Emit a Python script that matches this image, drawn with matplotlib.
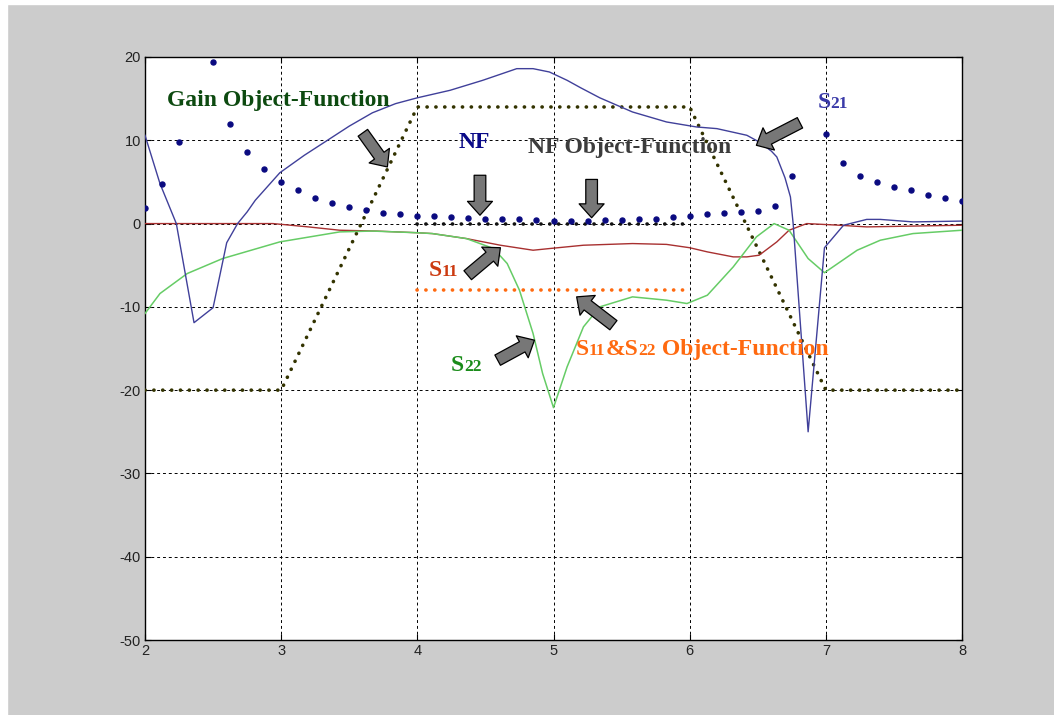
import matplotlib
matplotlib.use("Agg")
import matplotlib.pyplot as plt
from matplotlib import font_manager
from matplotlib.patches import FancyArrowPatch, Rectangle
from matplotlib.offsetbox import TextArea, HPacker, AnnotationBbox

# ---- data -------------------------------------------------------------
s21_x = [2.00, 2.11, 2.23, 2.36, 2.50, 2.60, 2.68, 2.75, 2.81, 2.99, 3.17, 3.34,
         3.50, 3.67, 3.84, 4.00, 4.24, 4.48, 4.73, 4.85, 4.97, 5.10, 5.20, 5.34,
         5.58, 5.83, 6.05, 6.20, 6.42, 6.51, 6.60, 6.64, 6.70, 6.74, 6.76, 6.87,
         6.99, 7.13, 7.30, 7.40, 7.64, 8.00]
s21_y = [10.6, 4.8, 0.0, -11.9, -10.1, -2.3, 0.0, 1.4, 2.8, 6.1, 8.2, 10.0,
         11.7, 13.3, 14.4, 15.1, 16.0, 17.2, 18.6, 18.6, 18.2, 17.2, 16.3, 15.1,
         13.4, 12.2, 11.6, 11.4, 10.6, 9.8, 8.7, 8.0, 5.5, 3.2, 0.0, -25.0,
         -2.9, -0.2, 0.5, 0.5, 0.2, 0.3]

s11_x = [2.00, 2.94, 3.20, 3.43, 3.70, 4.00, 4.11, 4.36, 4.61, 4.85, 4.97, 5.22,
         5.58, 5.83, 6.00, 6.13, 6.32, 6.42, 6.51, 6.64, 6.73, 6.86, 7.10, 7.30,
         7.64, 8.00]
s11_y = [0.0, 0.0, -0.4, -0.8, -0.9, -1.1, -1.2, -1.8, -2.6, -3.2, -3.0, -2.6,
         -2.4, -2.5, -2.9, -3.4, -4.0, -4.0, -3.8, -2.2, -0.8, 0.0, -0.2, -0.4,
         -0.3, -0.2]

s22_x = [2.00, 2.11, 2.31, 2.57, 2.99, 3.43, 3.67, 4.00, 4.11, 4.36, 4.56, 4.66,
         4.75, 4.85, 4.92, 5.00, 5.10, 5.22, 5.34, 5.58, 5.83, 5.98, 6.13, 6.32,
         6.49, 6.62, 6.73, 6.87, 6.99, 7.23, 7.40, 7.64, 8.00]
s22_y = [-10.8, -8.4, -6.0, -4.2, -2.2, -1.0, -0.9, -1.1, -1.2, -1.8, -3.0, -4.8,
         -8.0, -13.2, -18.0, -22.1, -17.2, -12.4, -10.0, -8.8, -9.2, -9.6, -8.6, -5.2,
         -1.6, 0.0, -0.8, -4.2, -5.9, -3.2, -2.0, -1.2, -0.8]

nf_x = [2.000, 2.125, 2.250, 2.375, 2.500, 2.625, 2.750, 2.875, 3.000, 3.125,
        3.250, 3.375, 3.500, 3.625, 3.750, 3.875, 4.000, 4.125, 4.250, 4.375,
        4.500, 4.625, 4.750, 4.875, 5.000, 5.125, 5.250, 5.375, 5.500, 5.625,
        5.750, 5.875, 6.000, 6.125, 6.250, 6.375, 6.500, 6.625, 6.750, 6.875,
        7.000, 7.125, 7.250, 7.375, 7.500, 7.625, 7.750, 7.875, 8.000]
nf_y = [1.9, 4.7, 9.8, 26.0, 19.4, 11.9, 8.6, 6.6, 5.0, 4.0,
        3.1, 2.5, 2.0, 1.6, 1.3, 1.1, 0.95, 0.85, 0.75, 0.65,
        0.6, 0.55, 0.5, 0.45, 0.35, 0.35, 0.35, 0.4, 0.45, 0.5,
        0.6, 0.75, 0.95, 1.15, 1.3, 1.4, 1.5, 2.1, 5.7, 28.0,
        10.8, 7.3, 5.7, 5.0, 4.4, 4.0, 3.4, 3.1, 2.7]

gain_goal_x = [2, 3, 4, 6, 7, 8]
gain_goal_y = [-20, -20, 14, 14, -20, -20]
nf_goal_x = [4, 6]
nf_goal_y = [0, 0]
match_goal_x = [4, 6]
match_goal_y = [-8, -8]

x_ticks = [2, 3, 4, 5, 6, 7, 8]
y_ticks = [-50, -40, -30, -20, -10, 0, 10, 20]

# ---- figure -----------------------------------------------------------
W, H = 1054, 715
fig = plt.figure(figsize=(W / 100, H / 100), dpi=100, facecolor="#cccccc")
# thin white border on the top and left of the window
fig.patches.append(Rectangle((0, 1 - 4 / H), 1, 4 / H, transform=fig.transFigure,
                             color="white", zorder=-1))
fig.patches.append(Rectangle((0, 0), 7 / W, 1, transform=fig.transFigure,
                             color="white", zorder=-1))

ax = fig.add_axes([145 / W, 1 - 640 / H, (962 - 145) / W, (640 - 57) / H])
ax.set_facecolor("white")
ax.set_xlim(2, 8)
ax.set_ylim(-50, 20)
ax.set_xticks(x_ticks)
ax.set_yticks(y_ticks)

installed = {f.name for f in font_manager.fontManager.ttflist}
tick_family = "Liberation Sans Narrow" if "Liberation Sans Narrow" in installed else "Liberation Sans"
tick_font = dict(family=tick_family, size=10.5)
ax.set_xticklabels([str(v) for v in x_ticks], fontdict=tick_font, color="#222222")
ax.set_yticklabels([str(v) for v in y_ticks], fontdict=tick_font, color="#222222")
ax.tick_params(direction="in", length=4, width=0.8, pad=3, top=True, right=True,
               labeltop=False, labelright=False)
for sp in ax.spines.values():
    sp.set_linewidth(1.0)
    sp.set_color("black")
ax.grid(True, color="black", linestyle=(0, (3, 3)), linewidth=0.7)
ax.set_axisbelow(True)

dot_style = dict(dash_capstyle="round", solid_capstyle="round")

# goal curves
ax.plot(gain_goal_x, gain_goal_y, color="#333300", linewidth=2.6,
        linestyle=(0, (0.05, 2.4)), **dot_style, zorder=3)
ax.plot(nf_goal_x, nf_goal_y, color="#111111", linewidth=2.6,
        linestyle=(0, (0.05, 2.4)), **dot_style, zorder=3)
ax.plot(match_goal_x, match_goal_y, color="#ff6a10", linewidth=2.6,
        linestyle=(0, (0.05, 2.4)), **dot_style, zorder=3)

# simulated responses
ax.plot(s11_x, s11_y, color="#a83030", linewidth=1.0, zorder=4)
ax.plot(s22_x, s22_y, color="#66cc66", linewidth=1.1, zorder=4)
ax.plot(s21_x, s21_y, color="#40409a", linewidth=1.0, zorder=5)
ax.plot(nf_x, nf_y, linestyle="none", marker="o", markersize=3.6,
        color="#0a0a80", zorder=6)

# ---- labels -----------------------------------------------------------
label_font = "Liberation Serif"
BIG, SMALL = 17, 12.5


def label(parts, xy, color):
    """Place a label made of (text, size) pieces sharing one baseline."""
    boxes = [TextArea(t, textprops=dict(family=label_font, weight="bold",
                                         size=s, color=color))
             for t, s in parts]
    pack = HPacker(children=boxes, align="baseline", pad=0, sep=0)
    ab = AnnotationBbox(pack, xy, xycoords="data", frameon=False,
                        box_alignment=(0.5, 0.5), pad=0, zorder=8)
    ax.add_artist(ab)


label([("Gain Object-Function", BIG)], (2.98, 14.8), "#0d4a10")
label([("NF", BIG)], (4.42, 9.7), "#0a0a88")
label([("NF Object-Function", BIG)], (5.56, 9.1), "#3c3c3c")
label([("S", BIG), ("21", SMALL)], (7.05, 14.5), "#3a3aa8")
label([("S", BIG), ("11", SMALL)], (4.19, -5.6), "#cc3a10")
label([("S", BIG), ("22", SMALL)], (4.36, -17.0), "#1a8c1a")
label([("S", BIG), ("11", SMALL), ("&S", BIG), ("22", SMALL),
       (" Object-Function", BIG)], (6.09, -15.1), "#ff6a10")

# ---- pointer arrows ----------------------------------------------------
arrows = [
    ((3.60, 10.9), (3.78, 6.8)),
    ((4.46, 5.8), (4.46, 1.0)),
    ((5.28, 5.3), (5.28, 0.7)),
    ((6.81, 12.1), (6.49, 9.4)),
    ((4.37, -6.2), (4.61, -2.9)),
    ((4.59, -16.4), (4.86, -14.0)),
    ((5.44, -12.2), (5.17, -8.8)),
]
for tail, head in arrows:
    ax.add_patch(FancyArrowPatch(
        tail, head, arrowstyle="simple,head_length=0.5,head_width=0.9,tail_width=0.42",
        mutation_scale=20, shrinkA=0, shrinkB=0, facecolor="#777777",
        edgecolor="black", linewidth=0.9, zorder=9))

fig.savefig("out.png", dpi=100, facecolor=fig.get_facecolor())
